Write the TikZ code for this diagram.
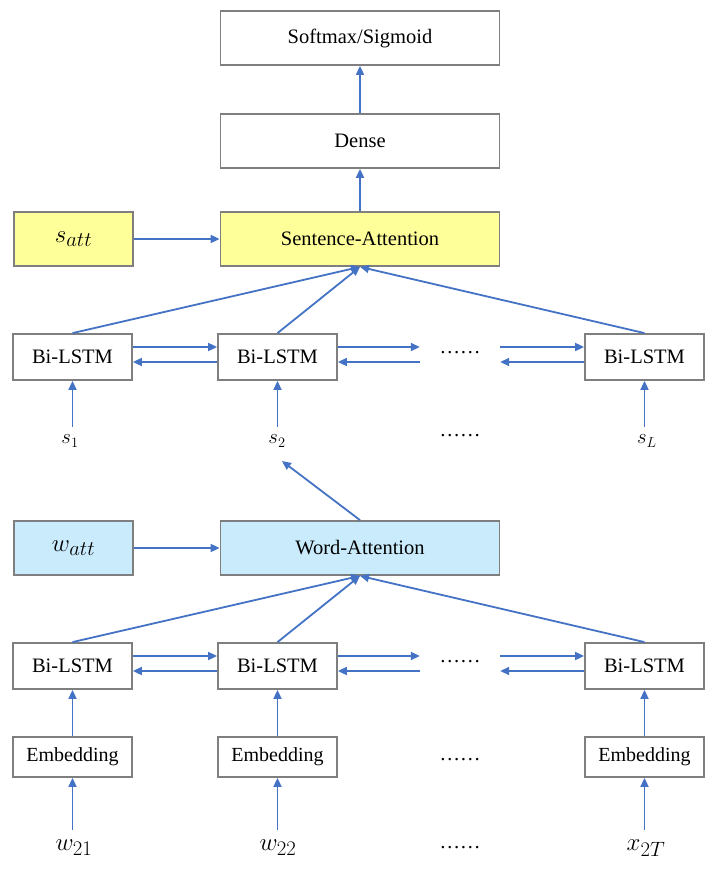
\documentclass[tikz,border=0pt]{standalone}
\usepackage{fontspec}
\setmainfont{Liberation Serif}
\newfontfamily\boxfont{Liberation Serif}
\usetikzlibrary{arrows.meta}

\definecolor{boxgray}{HTML}{7F7F7F}
\definecolor{linkblue}{HTML}{4472C4}
\definecolor{attyellow}{HTML}{FFFF99}
\definecolor{attblue}{HTML}{C9EBFC}

\tikzset{
  unit/.style={draw=boxgray, line width=1.8pt, minimum height=#1, inner sep=0pt, font=\boxfont\fontsize{20.5}{24}\selectfont},
  wide/.style={unit=54pt, minimum width=279pt},
  small/.style={unit=46pt, minimum width=119pt},
  emb/.style={unit=40pt, minimum width=119pt, font=\boxfont\fontsize{20}{24}\selectfont},
  attkey/.style={unit=54pt, minimum width=119pt, font=\fontsize{30}{34}\selectfont},
  gap/.style={inner sep=0pt, minimum width=80pt, font=\boxfont\fontsize{20.5}{24}\selectfont},
  lbl/.style={inner sep=0pt, font=\fontsize{22}{26}\selectfont},
  big/.style={inner sep=0pt, font=\fontsize{29}{32}\selectfont},
  link/.style={draw=linkblue, line width=1.8pt, -{Triangle[length=9pt,width=8pt]}}
}

\begin{document}
\begin{tikzpicture}[x=1pt,y=-1pt]

\useasboundingbox (0,0) rectangle (720,875);

% -------------------------------------------------
% Top : classifier
% -------------------------------------------------
\node[wide] (soft)  at (360,38)  {Softmax/Sigmoid};
\node[wide] (dense) at (360,141) {Dense};

% -------------------------------------------------
% Sentence level
% -------------------------------------------------
\node[attkey, fill=attyellow] (satt) at (73.5,239) {$s_{att}$};
\node[wide, fill=attyellow]   (sent) at (360,239)  {Sentence-Attention};

\node[small] (bs1)    at (72.5,357)  {Bi-LSTM};
\node[small] (bs2)    at (277.5,357) {Bi-LSTM};
\node[gap]   (bsdots) at (460,353)   {\dots\dots};
\node[small] (bs3)    at (644.5,357) {Bi-LSTM};

\node[lbl] (s1)    at (70,441)  {$s_1$};
\node[lbl] (s2)    at (277,441) {$s_2$};
\node[gap] (sdots) at (460,436) {\dots\dots};
\node[lbl] (sL)    at (647,441) {$s_L$};

% -------------------------------------------------
% Word level
% -------------------------------------------------
\node[attkey, fill=attblue] (watt) at (73.5,548) {$w_{att}$};
\node[wide, fill=attblue]   (word) at (360,548)  {Word-Attention};

\node[small] (bw1)    at (72.5,666)  {Bi-LSTM};
\node[small] (bw2)    at (277.5,666) {Bi-LSTM};
\node[gap]   (bwdots) at (460,662)   {\dots\dots};
\node[small] (bw3)    at (644.5,666) {Bi-LSTM};

\node[emb] (e1)    at (72.5,757)  {Embedding};
\node[emb] (e2)    at (277.5,757) {Embedding};
\node[gap] (edots) at (460,760)   {\dots\dots};
\node[emb] (e3)    at (644.5,757) {Embedding};

\node[big] (w1)    at (74,848)  {$w_{21}$};
\node[big] (w2)    at (278,848) {$w_{22}$};
\node[gap] (wdots) at (460,848) {\dots\dots};
\node[big] (x2T)   at (646,848) {$x_{2T}$};

\coordinate (s2in) at (282,461);

% -------------------------------------------------
% Connectors
% -------------------------------------------------
\draw[link] (dense) -- (soft);
\draw[link] (sent) -- (dense);
\draw[link] (satt) -- (sent);
\draw[link] (watt) -- (word);

\foreach \b in {bs1,bs2,bs3}
  \draw[link] (\b.north) -- (sent.south);
\foreach \b in {bw1,bw2,bw3}
  \draw[link] (\b.north) -- (word.south);

\draw[link] (word.north) -- (s2in);

% horizontal links
\foreach \row in {s,w} {
  \draw[link] ([yshift=10pt]b\row1.east) -- ([yshift=10pt]b\row2.west);
  \draw[link] ([yshift=-5pt]b\row2.west) -- ([yshift=-5pt]b\row1.east);
  \draw[link] ([yshift=10pt]b\row2.east) -- ([yshift=6pt]b\row dots.west);
  \draw[link] ([yshift=-9pt]b\row dots.west) -- ([yshift=-5pt]b\row2.east);
  \draw[link] ([yshift=6pt]b\row dots.east) -- ([yshift=10pt]b\row3.west);
  \draw[link] ([yshift=-5pt]b\row3.west) -- ([yshift=-9pt]b\row dots.east);
}

% inputs
\foreach \l/\b in {s1/bs1,s2/bs2,sL/bs3}
  \draw[link, shorten <=8pt] (\b.south |- \l.north) -- (\b.south);

\foreach \i in {1,2,3}
  \draw[link] (e\i) -- (bw\i);

\foreach \l/\b in {w1/e1,w2/e2,x2T/e3}
  \draw[link, shorten <=10pt] (\b.south |- \l.north) -- (\b.south);

\end{tikzpicture}
\end{document}
